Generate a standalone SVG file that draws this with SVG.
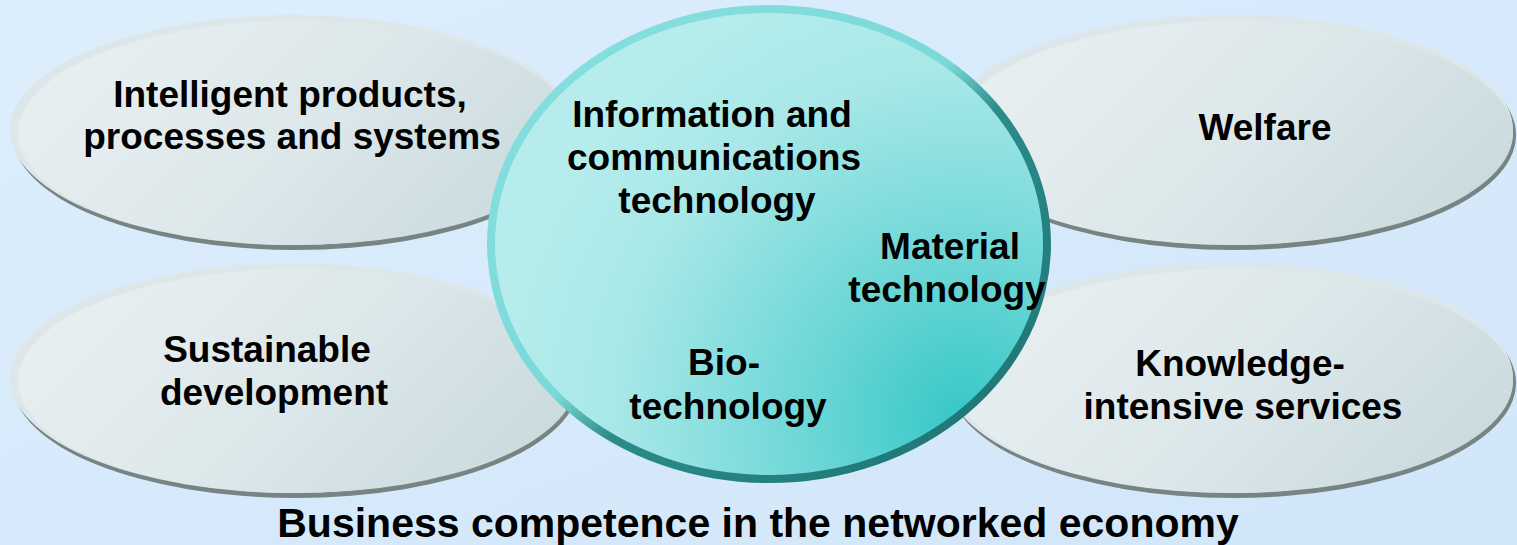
<svg xmlns="http://www.w3.org/2000/svg" width="1517" height="545" viewBox="0 0 1517 545">
<defs>
<linearGradient id="bg" x1="0" y1="0" x2="1" y2="1">
<stop offset="0" stop-color="#ddeefd"/>
<stop offset="1" stop-color="#d1e6f9"/>
</linearGradient>
<linearGradient id="disc" x1="0" y1="0.3" x2="1" y2="0.7">
<stop offset="0" stop-color="#e8eff1"/>
<stop offset="0.5" stop-color="#dde8eb"/>
<stop offset="1" stop-color="#c9dadd"/>
</linearGradient>
<linearGradient id="rim" x1="0" y1="0" x2="1" y2="1">
<stop offset="0" stop-color="#88e0e0"/>
<stop offset="0.47" stop-color="#7cd9d9"/>
<stop offset="0.56" stop-color="#2b8c8a"/>
<stop offset="1" stop-color="#1b6f6e"/>
</linearGradient>
<radialGradient id="core" gradientUnits="userSpaceOnUse" cx="965" cy="420" r="470">
<stop offset="0" stop-color="#36c7c7"/>
<stop offset="0.35" stop-color="#6fd7d7"/>
<stop offset="0.75" stop-color="#a9e8e8"/>
<stop offset="1" stop-color="#b6ecec"/>
</radialGradient>
</defs>
<style>
.shadow{fill:#788484}
.bevel{fill:#dde7e9}
.face{fill:url(#disc)}
.lbl{font-family:"Liberation Sans",Arial,sans-serif;font-weight:bold;font-size:37px;fill:#000;text-anchor:middle}
.title{font-family:"Liberation Sans",Arial,sans-serif;font-weight:bold;font-size:41px;fill:#000;text-anchor:middle}
</style>
<rect width="1517" height="545" fill="url(#bg)"/>

<g id="node-intelligent">
<ellipse class="shadow" cx="296" cy="135" rx="283" ry="115"/>
<ellipse class="bevel" cx="293" cy="130" rx="283" ry="115"/>
<ellipse class="face" cx="297" cy="133" rx="279" ry="112"/>
</g>
<g id="node-sustainable">
<ellipse class="shadow" cx="296" cy="383" rx="283" ry="115"/>
<ellipse class="bevel" cx="293" cy="378" rx="283" ry="115"/>
<ellipse class="face" cx="297" cy="381" rx="279" ry="112"/>
</g>
<g id="node-welfare">
<ellipse class="shadow" cx="1233" cy="135" rx="283" ry="115"/>
<ellipse class="bevel" cx="1230" cy="130" rx="283" ry="115"/>
<ellipse class="face" cx="1234" cy="133" rx="279" ry="112"/>
</g>
<g id="node-knowledge">
<ellipse class="shadow" cx="1233" cy="383" rx="283" ry="115"/>
<ellipse class="bevel" cx="1230" cy="378" rx="283" ry="115"/>
<ellipse class="face" cx="1234" cy="381" rx="279" ry="112"/>
</g>
<g id="node-core">
<ellipse cx="769" cy="244" rx="282" ry="239" fill="url(#rim)"/>
<ellipse cx="769" cy="244" rx="274" ry="231" fill="url(#core)"/>
</g>

<g id="connectors"></g>

<g id="labels">
<text class="lbl" x="290" y="107">Intelligent products,</text>
<text class="lbl" x="292" y="149">processes and systems</text>
<text class="lbl" x="267" y="362">Sustainable</text>
<text class="lbl" x="274" y="405">development</text>
<text class="lbl" x="1265" y="140">Welfare</text>
<text class="lbl" x="1240" y="376">Knowledge-</text>
<text class="lbl" x="1243" y="419">intensive services</text>
<text class="lbl" x="712" y="127">Information and</text>
<text class="lbl" x="714" y="170">communications</text>
<text class="lbl" x="717" y="213">technology</text>
<text class="lbl" x="950" y="259">Material</text>
<text class="lbl" x="947" y="302">technology</text>
<text class="lbl" x="724" y="375">Bio-</text>
<text class="lbl" x="728" y="419">technology</text>
<text class="title" x="758" y="537">Business competence in the networked economy</text>
</g>
</svg>
